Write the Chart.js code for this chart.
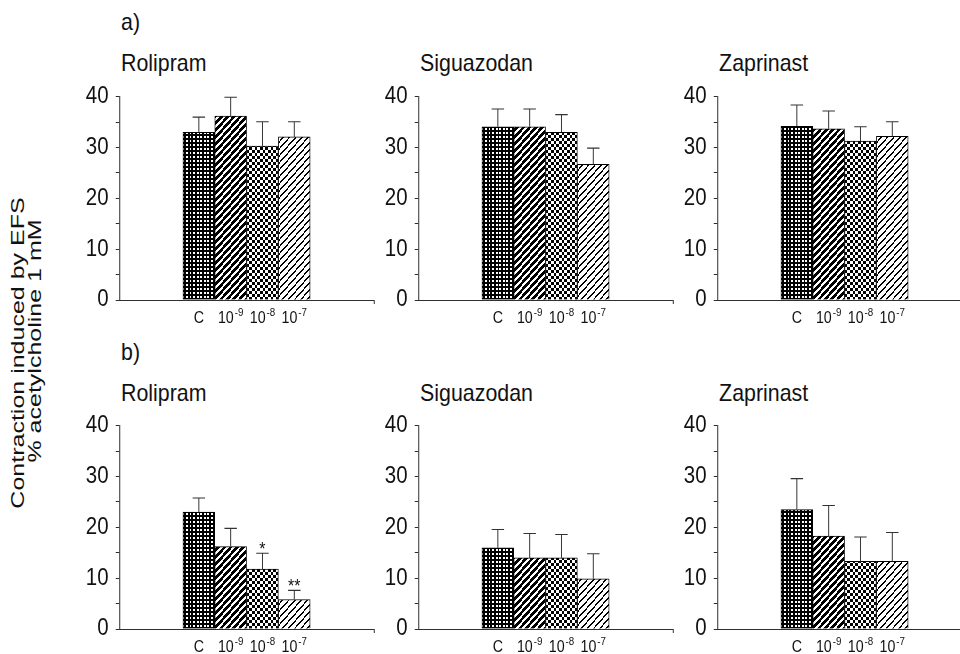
<!DOCTYPE html>
<html>
<head>
<meta charset="utf-8">
<script src="https://cdn.jsdelivr.net/npm/chart.js@4.4.0/dist/chart.umd.min.js"></script>
<style>
html, body { margin: 0; padding: 0; background: #fff; width: 960px; height: 654px; overflow: hidden; }
#stage { position: relative; width: 960px; height: 654px; overflow: hidden; }
canvas { position: absolute; }
.txt { position: absolute; white-space: nowrap; font-family: 'Liberation Sans', Arial, sans-serif; color: #111; font-size: 24px; line-height: 1; }
#wrap { position: absolute; left: 0; top: 0; width: 1080px; height: 654px; transform-origin: 0 0; transform: scaleX(0.89); }
.ylab { position: absolute; white-space: nowrap; font-family: 'Liberation Sans', Arial, sans-serif; color: #111; font-size: 25px; line-height: 1;
        transform: translate(-50%, -50%) rotate(-90deg) scaleY(0.72); }
</style>
</head>
<body>
<div id="stage">
  <div id="wrap">
    <div class="txt" style="left:136px; top:10px;">a)</div>
    <div class="txt" style="left:136px; top:51px;">Rolipram</div>
    <div class="txt" style="left:472px; top:51px;">Siguazodan</div>
    <div class="txt" style="left:808px; top:51px;">Zaprinast</div>
    <div class="txt" style="left:136px; top:340px;">b)</div>
    <div class="txt" style="left:136px; top:381px;">Rolipram</div>
    <div class="txt" style="left:472px; top:381px;">Siguazodan</div>
    <div class="txt" style="left:808px; top:381px;">Zaprinast</div>
  </div>
  <div class="ylab" style="left:18px; top:353px;">Contraction induced by EFS</div>
  <div class="ylab" style="left:35px; top:341px;">% acetylcholine 1 mM</div>
</div>
<script>
// dose labels under the bars: base text + superscript exponent
const doseBase = ['C', '10', '10', '10'];
const doseExp = ['', '-9', '-8', '-7'];
const yTicks = [0, 10, 20, 30, 40];

// a) contraction, means and SEM
const rolipramA = [33.0, 36.2, 30.3, 32.1];
const rolipramAErr = [3.0, 3.7, 4.8, 3.0];
const siguazodanA = [34.1, 34.1, 33.0, 26.7];
const siguazodanAErr = [3.5, 3.5, 3.5, 3.2];
const zaprinastA = [34.2, 33.7, 31.3, 32.2];
const zaprinastAErr = [4.2, 3.5, 2.8, 2.9];

// b)
const rolipramB = [23.0, 16.2, 11.8, 5.8];
const rolipramBErr = [2.8, 3.6, 3.1, 1.8];
const rolipramBSig = ['', '', '*', '**'];
const siguazodanB = [16.0, 14.0, 14.0, 9.9];
const siguazodanBErr = [3.6, 4.8, 4.6, 4.9];
const zaprinastB = [23.5, 18.3, 13.3, 13.3];
const zaprinastBErr = [6.1, 6.0, 4.8, 5.7];

const SX = 0.89; // the figure is squeezed horizontally
Chart.defaults.font.family = "'Liberation Sans', Arial, sans-serif";
Chart.defaults.color = '#111';

function pattern(kind) {
    const c = document.createElement('canvas');
    const s = kind == 'dots' ? 4 : kind == 'check' ? 6 : 7;
    c.width = s; c.height = s;
    const g = c.getContext('2d');
    g.fillStyle = '#fff';
    g.fillRect(0, 0, s, s);
    g.fillStyle = '#000';
    for (let x = 0; x < s; x++) {
        for (let y = 0; y < s; y++) {
            let black = false;
            if (kind == 'dots') black = !(x >= 1 && x <= 2 && y >= 1 && y <= 2);
            if (kind == 'bold') black = (x + y) % s < 4;
            if (kind == 'check') black = (Math.floor(x / 3) + Math.floor(y / 3)) % 2 == 0;
            if (kind == 'thin') black = (x + y) % s < 2;
            if (black) g.fillRect(x, y, 1, 1);
        }
    }
    return c;
}
const tiles = ['dots', 'bold', 'check', 'thin'].map(pattern);

const extras = {
    id: 'extras',
    beforeDraw(chart) {
        const ctx = chart.ctx;
        ctx.save();
        ctx.scale(SX, 1);
        ctx.imageSmoothingEnabled = false;
    },
    afterDatasetsDraw(chart, args, opts) {
        const ctx = chart.ctx;
        const x = chart.scales.x, y = chart.scales.y;
        const pts = chart.data.datasets[0].data;
        ctx.save();
        ctx.strokeStyle = '#333';
        ctx.lineWidth = 1.1;
        pts.forEach((p, i) => {
            const px = x.getPixelForValue(p.x);
            const top = y.getPixelForValue(p.y);
            const end = y.getPixelForValue(p.y + opts.errors[i]);
            ctx.beginPath();
            ctx.moveTo(px, top);
            ctx.lineTo(px, end);
            ctx.moveTo(px - 7, end);
            ctx.lineTo(px + 7, end);
            ctx.stroke();
            if (opts.sig && opts.sig[i]) {
                ctx.fillStyle = '#111';
                ctx.font = "18px 'Liberation Sans', Arial, sans-serif";
                ctx.textAlign = 'center';
                ctx.textBaseline = 'alphabetic';
                ctx.fillText(opts.sig[i], px, end + 2);
            }
        });
        // dose labels
        ctx.fillStyle = '#111';
        ctx.textAlign = 'left';
        ctx.textBaseline = 'alphabetic';
        const base = y.bottom + 23;
        doseBase.forEach((b, i) => {
            const px = x.getPixelForValue(i);
            ctx.font = "16px 'Liberation Sans', Arial, sans-serif";
            const bw = ctx.measureText(b).width;
            ctx.font = "11px 'Liberation Sans', Arial, sans-serif";
            const ew = doseExp[i] ? ctx.measureText(doseExp[i]).width + 1 : 0;
            const x0 = px - (bw + ew) / 2;
            ctx.font = "16px 'Liberation Sans', Arial, sans-serif";
            ctx.fillText(b, x0, base);
            if (doseExp[i]) {
                ctx.font = "11px 'Liberation Sans', Arial, sans-serif";
                ctx.fillText(doseExp[i], x0 + bw + 1, base - 7);
            }
        });
        ctx.restore();
    },
    afterDraw(chart) {
        chart.ctx.restore();
    }
};

function panel(axisX, y40, values, errors, sig) {
    const cv = document.createElement('canvas');
    cv.width = 364;
    cv.height = 250;
    cv.style.left = (axisX - 70 * SX) + 'px';
    cv.style.top = (y40 - 20) + 'px';
    document.getElementById('stage').appendChild(cv);
    const ctx = cv.getContext('2d');
    const fills = tiles.map(t => ctx.createPattern(t, 'repeat'));
    return new Chart(cv, {
        type: 'bar',
        data: {
            datasets: [{
                data: values.map((v, i) => ({x: i, y: v})),
                backgroundColor: fills,
                borderColor: '#000',
                borderWidth: 1,
                barPercentage: 1,
                categoryPercentage: 1
            }]
        },
        options: {
            responsive: false,
            animation: false,
            events: [],
            layout: {padding: {top: 20, right: 8, left: 0, bottom: 0}},
            plugins: {
                legend: {display: false},
                tooltip: {enabled: false},
                extras: {errors: errors, sig: sig}
            },
            scales: {
                x: {
                    type: 'linear',
                    min: -2.5,
                    max: 5.5,
                    offset: false,
                    afterBuildTicks: s => { s.ticks = [{value: s.max}]; },
                    afterFit: s => { s.height = 25; },
                    ticks: {display: false},
                    grid: {offset: false, drawOnChartArea: false, tickLength: 4, color: '#222'},
                    border: {color: '#222', width: 1}
                },
                y: {
                    min: 0,
                    max: 40,
                    afterFit: s => { s.width = 70; },
                    ticks: {
                        stepSize: 5,
                        autoSkip: false,
                        padding: 8,
                        color: '#111',
                        font: {size: 23},
                        callback: v => yTicks.includes(v) ? String(v) : ''
                    },
                    grid: {drawOnChartArea: false, tickLength: 4, color: '#222'},
                    border: {color: '#222', width: 1}
                }
            }
        },
        plugins: [extras]
    });
}

panel(119, 95, rolipramA, rolipramAErr);
panel(418, 95, siguazodanA, siguazodanAErr);
panel(717, 95, zaprinastA, zaprinastAErr);
panel(119, 424, rolipramB, rolipramBErr, rolipramBSig);
panel(418, 424, siguazodanB, siguazodanBErr);
panel(717, 424, zaprinastB, zaprinastBErr);
</script>
</body>
</html>
